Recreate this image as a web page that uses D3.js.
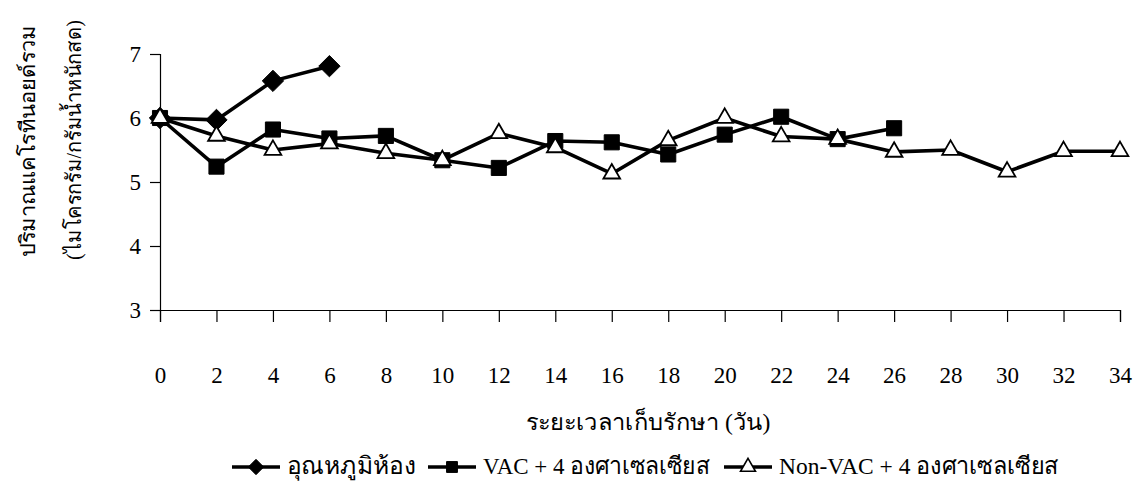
<!DOCTYPE html>
<html>
<head>
<meta charset="utf-8">
<script src="https://cdn.jsdelivr.net/npm/d3@7"></script>
<style>
  html, body { margin: 0; padding: 0; background: #fff; }
  svg text { font-family: "Liberation Serif", "Times New Roman", serif; fill: #000; }
</style>
</head>
<body>
<svg id="chart" width="1142" height="493"></svg>
<script>
// Storage days (x) and total carotenoid content (µg/g fresh weight)
const days = [0, 2, 4, 6, 8, 10, 12, 14, 16, 18, 20, 22, 24, 26, 28, 30, 32, 34];
const roomTemp = [6.00, 5.97, 6.58, 6.81];
const vac4 = [6.00, 5.24, 5.82, 5.68, 5.72, 5.34, 5.22, 5.64, 5.62, 5.43, 5.74, 6.02, 5.67, 5.84];
const nonVac4 = [6.00, 5.72, 5.50, 5.60, 5.45, 5.34, 5.76, 5.54, 5.13, 5.65, 6.00, 5.71, 5.67, 5.47, 5.50, 5.16, 5.48, 5.48];
const yTicks = [3, 4, 5, 6, 7];
const seriesNames = ["อุณหภูมิห้อง", "VAC + 4 องศาเซลเซียส", "Non-VAC + 4 องศาเซลเซียส"];
const yTitle = ["ปริมาณแคโรทีนอยด์รวม", "(ไมโครกรัม/กรัมน้ำหนักสด)"];
const xTitle = "ระยะเวลาเก็บรักษา (วัน)";

const svg = d3.select("#chart");
const x = d3.scaleLinear().domain([0, 34]).range([160, 1120]);
const y = d3.scaleLinear().domain([3, 7]).range([310, 54]);

// Axes
const yAxis = svg.append("g").attr("transform", `translate(${x(0)},0)`)
  .call(d3.axisLeft(y).tickValues(yTicks).tickSize(10).tickPadding(9).tickFormat(d3.format("d")));
const xAxis = svg.append("g").attr("transform", `translate(0,${y(3)})`)
  .call(d3.axisBottom(x).tickValues(days).tickSize(12).tickPadding(45).tickFormat(d3.format("d")));
[yAxis, xAxis].forEach(g => {
  g.select(".domain").attr("stroke", "#000").attr("stroke-width", 1.2);
  g.selectAll(".tick line").attr("stroke", "#000").attr("stroke-width", 1.2);
  g.selectAll(".tick text").attr("font-size", 23).attr("font-family", "Liberation Serif");
});

// Series definitions
const series = [
  { name: seriesNames[0], values: roomTemp, symbol: d3.symbolDiamond2, size: 290, legendSize: 150, fill: "#000" },
  { name: seriesNames[1], values: vac4, symbol: d3.symbolSquare2, size: 290, legendSize: 150, fill: "#000" },
  { name: seriesNames[2], values: nonVac4, symbol: d3.symbolTriangle2, size: 200, legendSize: 160, fill: "#fff" }
];

const line = d3.line().x((d, i) => x(days[i])).y(d => y(d));

series.forEach(s => {
  svg.append("path").datum(s.values)
    .attr("d", line).attr("fill", "none").attr("stroke", "#000")
    .attr("stroke-width", 3.6).attr("stroke-linejoin", "round");
});

series.forEach(s => {
  svg.append("g").selectAll("path").data(s.values).join("path")
    .attr("transform", (d, i) => `translate(${x(days[i])},${y(d)})`)
    .attr("d", d3.symbol().type(s.symbol).size(s.size))
    .attr("fill", s.fill).attr("stroke", "#000").attr("stroke-width", s.fill === "#fff" ? 1.8 : 1);
});

// Axis titles
svg.append("text").attr("x", 648).attr("y", 430).attr("text-anchor", "middle")
  .attr("font-size", 23).attr("textLength", 245).attr("lengthAdjust", "spacingAndGlyphs")
  .text(xTitle);
const yTitleX = [28, 74], yTitleY = [141, 140], yTitleLen = [232, 240];
yTitle.forEach((t, i) => {
  svg.append("text").attr("transform", `translate(${yTitleX[i]},${yTitleY[i]}) rotate(-90)`)
    .attr("text-anchor", "middle").attr("dominant-baseline", "central")
    .attr("font-size", 21).attr("textLength", yTitleLen[i]).attr("lengthAdjust", "spacingAndGlyphs")
    .text(t);
});

// Legend
const legendX = [232, 428, 724];
const legendText = [129, 227, 280];
const legendY = 467;
series.forEach((s, i) => {
  const g = svg.append("g").attr("transform", `translate(${legendX[i]},${legendY})`);
  g.append("line").attr("x1", 0).attr("x2", 48).attr("stroke", "#000").attr("stroke-width", 3.4);
  g.append("path").attr("transform", "translate(24,0)")
    .attr("d", d3.symbol().type(s.symbol).size(s.legendSize))
    .attr("fill", s.fill).attr("stroke", "#000").attr("stroke-width", s.fill === "#fff" ? 1.6 : 1);
  g.append("text").attr("x", 55).attr("y", 7).attr("font-size", 24)
    .attr("textLength", legendText[i]).attr("lengthAdjust", "spacingAndGlyphs")
    .text(s.name);
});
</script>
</body>
</html>
